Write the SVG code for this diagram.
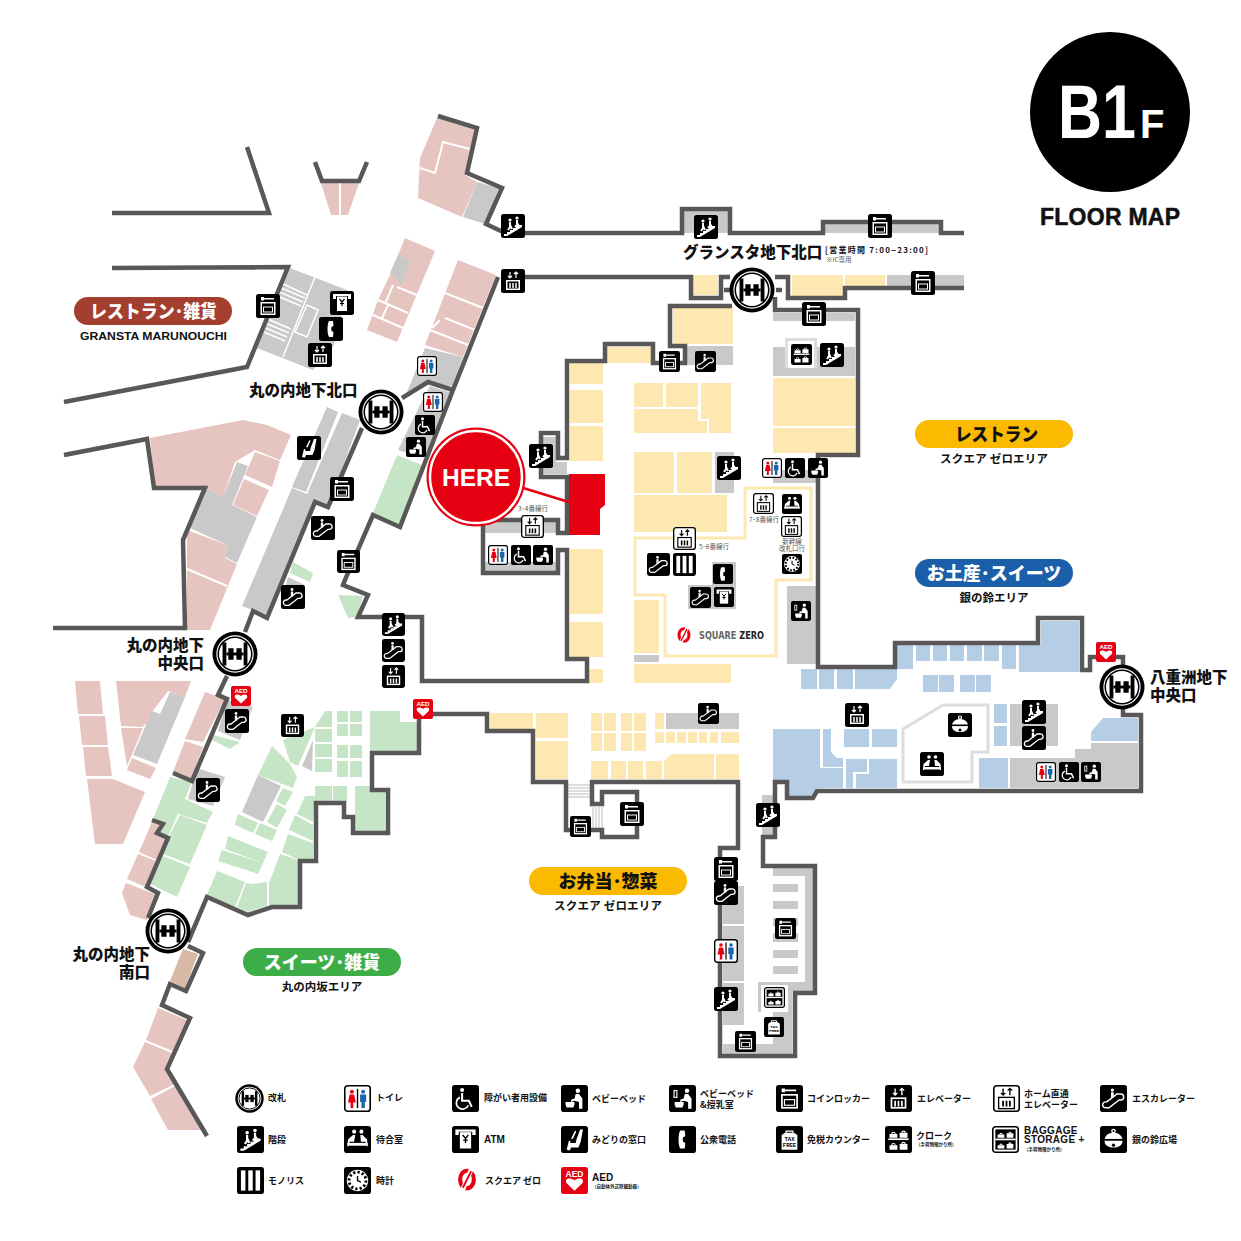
<svg xmlns="http://www.w3.org/2000/svg" width="1241" height="1241" viewBox="0 0 1241 1241">
<style>
text{font-family:"Noto Sans CJK JP","Liberation Sans",sans-serif;font-weight:700;fill:#111}
.w{fill:none;stroke:#595757;stroke-width:4.500;stroke-linejoin:miter}
.p{fill:#e6c4bf}.g{fill:#c9c9c9}.y{fill:#fce8b0}.n{fill:#c6e5c6}.b{fill:#b5cee6}
.bk{fill:#000}.wh{fill:#fff}.sw{fill:none;stroke:#fff}.sk{fill:none;stroke:#000}
.gl{font-size:15.500px;font-weight:900}.lg{font-size:9px}.sm{font-size:4.500px}.note{font-size:6.500px;font-weight:400;fill:#555}
.pill{font-size:18px;text-anchor:middle;font-weight:900}.sub{font-size:11.500px;text-anchor:middle}
</style>
<defs>
<symbol id="i-gate" viewBox="0 0 48 48"><circle cx="24" cy="24" r="23.500" class="bk"/><circle cx="24" cy="24" r="19.500" class="wh"/><circle cx="24" cy="24" r="17.500" class="sk" stroke-width="1.600"/><rect x="11" y="12" width="4" height="24" class="bk"/><rect x="33" y="12" width="4" height="24" class="bk"/><rect x="17" y="18" width="5.500" height="12" class="bk"/><rect x="25.500" y="18" width="5.500" height="12" class="bk"/><rect x="15" y="22.500" width="18" height="3" class="bk"/></symbol>
<symbol id="i-stair" viewBox="0 0 24 24"><rect class="bk" width="24" height="24" rx="2.500"/><path class="wh" d="M3 20h3v-2h3v-2h3v-2h3v-2h3v-1h3v2L6 22H3z"/><circle class="wh" cx="9" cy="6" r="1.600"/><circle class="wh" cx="16" cy="4" r="1.600"/><path class="sw" stroke-width="2" d="M9 8v5l-2 3M9 11l2 4M16 6v5l-2 2M16 9l2 3"/></symbol>
<symbol id="i-esc" viewBox="0 0 24 24"><rect class="bk" width="24" height="24" rx="2.500"/><path class="sw" stroke-width="1.300" d="M6 15l9-7h3a2.700 2.700 0 0 1 1 5.300h-2l-9 7H5a2.500 2.500 0 0 1 0-5.300z"/><circle class="wh" cx="11" cy="4.500" r="1.400"/><rect class="wh" x="9.800" y="6.500" width="2.400" height="5"/></symbol>
<symbol id="i-lock" viewBox="0 0 24 24"><rect class="bk" width="24" height="24" rx="2.500"/><path class="wh" d="M5 3h3v1h10v1.500H8v1H5z"/><rect class="wh" x="4.500" y="8" width="15" height="13"/><rect class="bk" x="6" y="9.500" width="12" height="10"/><rect class="wh" x="7" y="12.500" width="10" height="6"/><rect class="bk" x="8" y="13.500" width="8" height="4"/></symbol>
<symbol id="i-elev" viewBox="0 0 24 24"><rect class="bk" width="24" height="24" rx="2.500"/><path class="sw" stroke-width="1.200" d="M9 3v6M7 7l2 2 2-2M15 9V3M13 5l2-2 2 2"/><rect class="wh" x="5" y="11" width="14" height="10"/><rect class="bk" x="6.500" y="12.500" width="11" height="7"/><path class="sw" stroke-width="1.500" d="M9 14v5M12 14v5M15 14v5"/></symbol>
<symbol id="i-home" viewBox="0 0 24 24"><rect class="wh" x=".7" y=".7" width="22.600" height="22.600" rx="2.500" stroke="#000" stroke-width="1.400"/><path class="sk" stroke-width="1.200" d="M9 3v6M7 7l2 2 2-2M15 9V3M13 5l2-2 2 2"/><rect class="sk" stroke-width="1.200" x="5" y="11" width="14" height="10"/><path class="sk" stroke-width="1.600" d="M9 14v5M12 14v5M15 14v5"/></symbol>
<symbol id="i-wc" viewBox="0 0 24 24"><rect class="wh" x=".7" y=".7" width="22.600" height="22.600" rx="2.500" stroke="#000" stroke-width="1.400"/><circle cx="7" cy="6" r="1.800" fill="#e60012"/><path fill="#e60012" d="M5 8.500h4l1.500 7H8.200v5H5.800v-5H3.500z"/><circle cx="17" cy="6" r="1.800" fill="#1b64ae"/><path fill="#1b64ae" d="M14.300 8.500h5.400v6.500h-1.200v5.500h-3V15h-1.200z"/><rect x="11.400" y="3.500" width="1.200" height="17" class="bk"/></symbol>
<symbol id="i-wheel" viewBox="0 0 24 24"><rect class="bk" width="24" height="24" rx="2.500"/><circle class="wh" cx="9" cy="4.500" r="1.800"/><path class="sw" stroke-width="1.800" d="M9 7v7h6l2.500 5.500"/><path class="sw" stroke-width="1.500" d="M7 11a5.500 5.500 0 1 0 7.500 7"/></symbol>
<symbol id="i-baby" viewBox="0 0 24 24"><rect class="bk" width="24" height="24" rx="2.500"/><circle class="wh" cx="15" cy="5" r="2"/><path class="wh" d="M13 8h3l3 4v9h-3v-6l-4-1-3 1v-2l3-1z"/><path class="wh" d="M4 15h8v2l-1 3H5l-1-3z"/></symbol>
<symbol id="i-nurse" viewBox="0 0 24 24"><rect class="bk" width="24" height="24" rx="2.500"/><circle class="wh" cx="16" cy="5" r="2"/><path class="wh" d="M14 8h3l3 4v9h-3v-6l-4-1-3 1v-2l3-1z"/><path class="wh" d="M5 15h8v2l-1 3H6l-1-3z"/><rect class="sw" stroke-width="1" x="4.500" y="5" width="2.500" height="6"/></symbol>
<symbol id="i-wait" viewBox="0 0 24 24"><rect class="bk" width="24" height="24" rx="2.500"/><circle class="wh" cx="9" cy="5" r="1.800"/><circle class="wh" cx="15.500" cy="5" r="1.800"/><path class="wh" d="M8 8h2l-1 6H5l-1 4H3l.5-6zM14.500 8h2l4 4 .5 6h-1l-1-4h-4z"/><rect class="wh" x="3" y="15" width="18" height="2.500"/></symbol>
<symbol id="i-atm" viewBox="0 0 24 24"><rect class="bk" width="24" height="24" rx="2.500"/><path class="wh" d="M3 3h18v5h-3V5H6v3H3z"/><path class="wh" d="M7 5.500h10V20H7z"/><path class="sk" stroke-width="1.200" d="M9.500 8l2.500 3 2.500-3M12 11v4M10 12.500h4"/></symbol>
<symbol id="i-seat" viewBox="0 0 24 24"><rect class="bk" width="24" height="24" rx="2.500"/><path class="wh" d="M17 3h2.500l-2 11-2 5H9l-1 2.500H6L8 15h5l1-4z"/><path class="wh" d="M12.500 4l1 1-3 6.500-1.500-.5zM5 21l2-8 1.500.5L7 21z"/></symbol>
<symbol id="i-tel" viewBox="0 0 24 24"><rect class="bk" width="24" height="24" rx="2.500"/><path class="wh" d="M10 4h4l.5 5-2 1c-.3 1.500-.3 2.500 0 4l2 1-.5 5h-4C8 17 8 7 10 4z"/></symbol>
<symbol id="i-mono" viewBox="0 0 24 24"><rect class="bk" width="24" height="24" rx="2.500"/><rect class="wh" x="3.500" y="3" width="4" height="18"/><rect class="wh" x="10" y="3" width="4" height="18"/><rect class="wh" x="16.500" y="3" width="4" height="18"/></symbol>
<symbol id="i-clock" viewBox="0 0 24 24"><rect class="bk" width="24" height="24" rx="2.500"/><circle class="wh" cx="12" cy="12" r="9.500"/><circle cx="12" cy="12" r="7.500" fill="none" stroke="#000" stroke-width="2.500" stroke-dasharray="2 1.900"/><path class="sk" stroke-width="1.200" d="M12 8v4l3 1.500"/></symbol>
<symbol id="i-aed" viewBox="0 0 24 24"><rect fill="#e60012" width="24" height="24" rx="2.500"/><text x="12" y="8.500" text-anchor="middle" style="font-family:'Liberation Sans',sans-serif;font-size:7.500px;font-weight:700;fill:#fff">AED</text><path class="wh" d="M12 21L5 14.500C3 11 7 8.500 12 12c5-3.500 9-1 7 2.500z"/></symbol>
<symbol id="i-tax" viewBox="0 0 24 24"><rect class="bk" width="24" height="24" rx="2.500"/><path class="sw" stroke-width="1.200" d="M9 6V4.500h6V6"/><path class="wh" d="M8 6h8l3 2v13H5V8z"/><text x="12" y="13.500" text-anchor="middle" style="font-family:'Liberation Mono',monospace;font-size:5px;font-weight:700;fill:#000">TAX</text><text x="12" y="18.500" text-anchor="middle" style="font-family:'Liberation Mono',monospace;font-size:5px;font-weight:700;fill:#000">FREE</text></symbol>
<symbol id="i-cloak" viewBox="0 0 24 24"><rect class="bk" width="24" height="24" rx="2.500"/><rect class="wh" x="3" y="11" width="18" height="1.500"/><path class="wh" d="M4 7h7v3.500H4zM13 6h7v4.500h-7zM4 17h7v4H4zM13 16h7v5h-7z"/><path class="sw" stroke-width="1" d="M6 7a1.500 1.500 0 0 1 3 0M15 6a1.500 1.500 0 0 1 3 0M6 17a1.500 1.500 0 0 1 3 0M15 16a1.500 1.500 0 0 1 3 0"/></symbol>
<symbol id="i-bag" viewBox="0 0 24 24"><rect class="wh" x=".7" y=".7" width="22.600" height="22.600" rx="2.500" stroke="#000" stroke-width="1.400"/><rect class="bk" x="3" y="3" width="18" height="18"/><rect class="wh" x="3" y="11.200" width="18" height="1.500"/><path class="wh" d="M5 7.500h6v3H5zM13 6.500h6v4h-6zM5 17h6v3H5zM13 16h6v4h-6z"/><path class="sw" stroke-width=".9" d="M7 7.500a1 1 0 0 1 2 0M15 6.500a1 1 0 0 1 2 0M7 17a1 1 0 0 1 2 0M15 16a1 1 0 0 1 2 0"/></symbol>
<symbol id="i-bell" viewBox="0 0 24 24"><rect class="bk" width="24" height="24" rx="2.500"/><circle class="sw" stroke-width="1.200" cx="12" cy="4.500" r="1.500"/><path class="wh" d="M12 6c5 0 8 3 8 7 0 4-3 6-8 6s-8-2-8-6c0-4 3-7 8-7z"/><rect class="bk" x="3.500" y="11.500" width="17" height="1.600"/><circle class="bk" cx="12" cy="17" r="1.500"/></symbol>
<symbol id="i-zero" viewBox="0 0 24 24"><ellipse cx="12" cy="12" rx="7.500" ry="9.500" fill="none" stroke="#e60012" stroke-width="4.500"/><path d="M17 0L7 24" stroke="#fff" stroke-width="5"/><path d="M16.500 3L7.500 21" stroke="#e60012" stroke-width="2"/></symbol>
</defs>

<g id="floors">
<polygon class="p" points="437,118 475,130 465,175 477,182 462,217 418,198 420,158"/>
<polyline points="420,168 435,173 443,142 470,149" fill="none" stroke="#fff" stroke-width="2"/>
<polygon class="g" points="477,182 499,188 485,224 463,217"/>
<polygon class="p" points="321,183 359,183 348,215 331,215"/>
<rect x="339" y="183" width="2" height="32" fill="#fff"/>
<polygon class="g" points="290,268 347,290 334,345 313,370 257,348"/>
<g fill="none" stroke="#fff" stroke-width="1.500"><path d="M315,277L283,357M281,283L307,295M279,287L305,298M277,291L303,302M275,295L301,306M265,318L291,329M263,322L289,333M261,326L287,337M259,330L285,341"/><polygon points="307,305 318,310 307,337 295,332"/></g>
<polygon class="p" points="405,238 435,251 397,342 367,330 378,300 390,275 398,255"/>
<polygon class="g" points="398,255 410,260 402,285 390,273"/>
<path d="M378,300L408,313M373,315L403,328M397,287L417,295M386,302L393,285M382,318L388,305" stroke="#fff" stroke-width="2" fill="none"/>
<polygon class="p" points="458,260 496,275 463,357 425,345"/>
<path d="M445,293L483,308M445,318L475,330M430,330L468,345M440,320L432,328" stroke="#fff" stroke-width="2" fill="none"/>
<polygon class="g" points="425,348 463,357 453,387 428,381 407,392"/>
<polygon class="g" points="430,386 452,393 424,458 398,450 420,405"/>
<polygon class="n" points="397,455 422,465 400,525 373,513"/>
<polygon class="p" points="150,438 243,420 267,425 291,435 280,460 255,450 235,462 223,497 205,488 155,488"/>
<polygon class="p" points="255,452 280,461 272,487 245,475"/>
<polygon class="p" points="244,479 269,490 257,516 233,505"/>
<polygon class="g" points="237,462 248,466 232,505 257,517 237,563 225,557 227,545 190,528 205,488 223,497"/>
<polygon class="p" points="187,530 227,545 225,558 237,564 210,630 187,630"/>
<path d="M187,569L227,586" stroke="#fff" stroke-width="2"/>
<polygon class="g" points="327,407 338,412 306,492 292,487"/>
<polygon class="g" points="342,413 360,420 328,507 315,502 267,616 242,606 292,488 307,494"/>
<polygon class="n" points="293,562 313,573 310,582 290,573"/>
<polygon class="g" points="288,577 305,585 297,610 282,603"/>
<polygon class="n" points="338,595 363,596 357,617 348,618"/>
<rect class="y" x="693" y="275" width="25" height="20"/><rect class="y" x="792" y="275" width="51" height="21"/><rect class="y" x="845" y="275" width="40" height="12"/><rect class="g" x="887" y="275" width="77" height="12"/>
<rect class="g" x="684" y="210" width="45" height="23"/><polygon class="g" points="825,223 941,223 941,233 825,233"/>
<rect class="y" x="673" y="307" width="60" height="37"/><rect class="g" x="687" y="346" width="46" height="19"/>
<rect class="y" x="607" y="347" width="44" height="16"/>
<rect class="y" x="570" y="363" width="33" height="21"/><rect class="y" x="570" y="390" width="33" height="33"/><rect class="y" x="570" y="426" width="33" height="35"/>
<polygon class="g" points="543,437 556,437 556,462 567,462 567,474 543,474"/>
<rect class="y" x="570" y="549" width="33" height="65"/><rect class="y" x="570" y="622" width="33" height="35"/><rect class="y" x="588" y="669" width="15" height="14"/>
<rect class="y" x="634" y="383" width="29" height="24"/><rect class="y" x="666" y="383" width="32" height="24"/>
<polygon class="y" points="701,383 731,383 731,433 709,433 709,419 701,419"/>
<polygon class="y" points="634,409 698,409 698,421 707,421 707,433 634,433"/>
<rect class="y" x="634" y="452" width="40" height="41"/><rect class="y" x="677" y="452" width="35" height="41"/><rect class="g" x="715" y="452" width="19" height="41"/>
<rect class="y" x="634" y="495" width="93" height="37"/>
<rect class="y" x="634" y="600" width="25" height="53"/><rect class="g" x="634" y="655" width="25" height="7"/><rect class="y" x="634" y="664" width="97" height="19"/>
<rect class="g" x="773" y="313" width="82" height="8"/><rect class="g" x="773" y="347" width="82" height="29"/><rect fill="#ddd" x="785" y="338" width="32" height="30"/><rect class="wh" x="788" y="341" width="26" height="27"/>
<rect class="y" x="773" y="378" width="82" height="48"/><rect class="y" x="773" y="428" width="82" height="25"/>
<rect class="g" x="773" y="470" width="43" height="13"/>
<polygon points="635,538 745,538 745,488 811,488 811,580 776,580 776,656 665,656 665,595 635,595" fill="none" stroke="#fce8b0" stroke-width="3"/>
<polygon class="g" points="712,562 736,562 736,609 688,609 688,585 712,585"/>
<rect class="g" x="787" y="586" width="30" height="78"/>
<rect class="g" x="485" y="522" width="71" height="11"/><rect class="g" x="485" y="562" width="71" height="10"/>
<rect class="y" x="490" y="713" width="43" height="16"/><rect class="y" x="536" y="713" width="32" height="25"/><rect class="y" x="536" y="741" width="32" height="38"/>
<g class="y"><rect x="591" y="713" width="11" height="18"/><rect x="604" y="713" width="12" height="18"/><rect x="621" y="713" width="11" height="18"/><rect x="634" y="713" width="12" height="18"/><rect x="591" y="733" width="11" height="18"/><rect x="604" y="733" width="12" height="18"/><rect x="621" y="733" width="11" height="18"/><rect x="634" y="733" width="12" height="18"/>
<rect x="655" y="713" width="9" height="16"/><rect x="655" y="732" width="9" height="11"/><rect x="666" y="732" width="9" height="11"/><rect x="677" y="732" width="9" height="11"/><rect x="688" y="732" width="9" height="11"/><rect x="699" y="732" width="8" height="11"/><rect x="710" y="732" width="8" height="11"/><rect x="721" y="732" width="18" height="11"/>
<rect x="591" y="761" width="17" height="18"/><rect x="611" y="761" width="15" height="18"/><rect x="628" y="761" width="15" height="18"/><rect x="646" y="761" width="16" height="18"/><polygon points="664,761 672,754 714,754 714,779 664,779"/><rect x="716" y="754" width="23" height="25"/></g>
<rect class="g" x="666" y="713" width="73" height="16"/>
<g stroke="#bbb" stroke-width="1"><path d="M568,785h23M568,788h23M568,791h23M568,794h23M568,797h23M593,807v21M596,807v21M599,807v21M602,807v21"/></g>
<rect class="g" x="762" y="795" width="15" height="41"/>
<rect class="g" x="723" y="886" width="21" height="38"/><rect class="g" x="723" y="926" width="21" height="55"/><rect class="g" x="723" y="983" width="21" height="42"/>
<rect class="g" x="773" y="868" width="40" height="8"/><rect class="g" x="805" y="868" width="8" height="123"/>
<polygon class="g" points="758,982 813,982 813,991 792,991 792,1054 723,1054 723,1044 773,1044 773,1012 758,1012"/>
<rect class="wh" x="761" y="985" width="27" height="27"/>
<g class="g"><rect x="773" y="884" width="25" height="8"/><rect x="773" y="901" width="25" height="8"/><rect x="773" y="918" width="25" height="8"/><rect x="773" y="933" width="25" height="9"/><rect x="773" y="950" width="25" height="8"/><rect x="773" y="966" width="25" height="8"/></g>
<g class="b"><rect x="897" y="645" width="16" height="24"/><rect x="916" y="645" width="14" height="16"/><rect x="933" y="645" width="14" height="16"/><rect x="950" y="645" width="14" height="16"/><rect x="967" y="645" width="15" height="16"/><rect x="984" y="645" width="15" height="16"/><rect x="1002" y="645" width="14" height="24"/>
<polygon points="1019,645 1041,645 1041,621 1079,621 1079,672 1019,672"/>
<rect x="801" y="669" width="16" height="20"/><rect x="819" y="669" width="15" height="20"/><rect x="837" y="669" width="16" height="20"/><polygon points="855,669 897,669 897,679 890,689 855,689"/>
<rect x="923" y="675" width="15" height="17"/><rect x="939" y="675" width="15" height="17"/><rect x="960" y="675" width="15" height="17"/><rect x="976" y="675" width="15" height="17"/>
<rect x="994" y="704" width="13" height="19"/><rect x="994" y="726" width="13" height="20"/>
<rect x="844" y="729" width="25" height="18"/><rect x="872" y="729" width="25" height="18"/>
<polygon points="773,729 820,729 820,768 843,768 843,788 817,788 813,797 788,797 788,780 773,780"/>
<polygon points="823,729 831,729 831,752 837,758 843,758 843,767 823,767"/>
<polygon points="846,759 867,759 867,772 853,772 853,788 846,788"/>
<polygon points="869,759 897,759 897,788 856,788 856,774 869,774"/>
<rect x="979" y="758" width="29" height="30"/>
<polygon points="1103,718 1138,718 1138,741 1091,741 1091,732"/></g>
<rect class="g" x="1010" y="704" width="48" height="42"/>
<polygon class="g" points="1010,758 1075,758 1075,749 1091,749 1091,743 1138,743 1138,788 1010,788"/>
<polygon points="943,705 988,705 988,752 972,752 972,782 903,782 903,729" fill="none" stroke="#ddd" stroke-width="3"/>
<g class="n"><polygon points="370,711 400,711 400,722 417,722 417,751 370,751"/>
<polygon points="325,711 332,711 332,727 315,727"/><rect x="315" y="729" width="17" height="13"/><rect x="315" y="744" width="17" height="13"/><rect x="315" y="759" width="17" height="13"/>
<rect x="337" y="711" width="11" height="11"/><rect x="350" y="711" width="12" height="11"/><rect x="337" y="724" width="11" height="12"/><rect x="350" y="724" width="12" height="12"/><rect x="337" y="745" width="11" height="13"/><rect x="350" y="745" width="12" height="13"/><rect x="337" y="761" width="11" height="16"/><rect x="350" y="761" width="12" height="16"/>
<rect x="315" y="786" width="17" height="16"/><rect x="333" y="786" width="14" height="16"/><polygon points="355,786 372,786 372,791 385,791 385,831 355,831"/>
<polygon points="272,746 290,764 297,777 293,788 258,775"/><polygon points="283,740 315,727 298,766 290,762"/>
<polygon points="283,788 293,792 285,806 276,801"/><polygon points="277,804 287,810 277,828 267,822"/><polygon points="238,814 258,823 253,833 235,825"/><polygon points="260,823 277,830 272,841 255,834"/>
<polygon points="305,796 315,796 313,822 297,814"/><polygon points="295,815 313,825 313,841 289,830"/><polygon points="288,834 313,843 313,860 299,860 282,852"/>
<polygon points="280,854 298,860 298,906 269,906 269,883"/><polygon points="267,882 267,906 248,912 237,907 246,883 253,884"/><polygon points="217,871 245,882 235,907 207,895"/>
<polygon points="228,836 268,852 263,863 225,849"/><polygon points="222,850 263,863 258,874 218,861"/>
<polygon points="170,777 192,782 185,799 213,812 207,823 178,814 168,836 162,834 153,819"/>
<polygon points="180,815 207,825 190,864 163,854 168,838"/><polygon points="163,856 190,867 177,897 150,884"/>
<polygon points="213,735 240,742 230,749 212,740"/></g>
<polygon class="g" points="313,740 312,771 302,766"/>
<polygon class="g" points="258,775 281,786 263,822 242,812"/>
<polygon class="g" points="197,768 225,777 213,806 188,799"/>
<polygon class="g" points="253,707 240,740 218,731 227,700"/>
<g class="p"><polygon points="75,681 100,681 103,714 78,714"/><polygon points="79,716 105,716 108,745 82,745"/><polygon points="83,747 108,747 112,776 86,776"/><polygon points="87,779 113,779 145,792 123,844 95,844"/>
<polygon points="116,681 191,681 185,697 168,691 152,712 160,714 142,727 121,726"/><polygon points="121,728 143,728 127,766"/><polygon points="132,758 156,768 150,779 127,770"/>
<polygon points="205,692 225,699 203,742 185,739"/><polygon points="185,741 203,747 191,779 173,772"/>
<polygon points="152,822 162,825 156,834 167,838 157,860 139,852"/><polygon points="138,854 156,861 146,887 127,879"/><polygon points="126,883 157,895 147,920 130,915 122,893"/>
<polygon points="158,1008 187,1020 175,1052 146,1040"/><polygon points="145,1042 172,1053 167,1069 175,1084 150,1096 133,1067"/><polygon points="151,1099 175,1086 202,1130 168,1130"/></g>
<polygon class="g" points="170,692 185,697 157,764 133,755 152,711 160,714"/>
<polygon fill="#d7b9a6" points="183,949 198,954 185,988 170,981"/>
</g>

<g id="connectors">
<polyline class="w" points="112,213 269,213 247,147"/>
<polyline class="w" points="315,162 322,181 359,181 367,162"/>
<polyline class="w" points="438,116 477,128 467,173 502,188 486,224 503,232"/>
<polyline class="w" points="513,233 682,233 682,209 730,209 730,233 823,233 823,222 941,222 941,233 964,233"/>
<polyline class="w" points="513,277 691,277 691,298 721,298 721,277 730,277"/>
<polyline class="w" points="775,277 788,277 788,298 845,298 845,288 964,288"/>
<path class="w" d="M724,290h6M776,290h6"/>
<polyline class="w" points="498,277 453,390 400,527 373,515 347,575 343,585 368,595 358,617 422,617 422,681 587,681 587,659 567,659 567,550 558,550 558,573 483,573 483,520 558,520 558,533 567,533 567,477 541,477 541,433 558,433 558,458 567,458 567,361 605,361 605,344 653,344 653,363 685,363 685,346 670,346 670,306 732,306"/>
<polyline class="w" points="775,297 775,310 858,310 858,455 818,455 818,667 895,667 895,643 1038,643 1038,618 1082,618 1082,670 1090,670 1090,657 1123,657 1123,668"/>
<polyline class="w" points="1123,706 1123,715 1141,715 1141,791 817,791 813,798 787,798 787,782 775,782 775,837 763,837 763,866 815,866 815,993 795,993 795,1056 720,1056 720,848 738,848 738,782 592,782 592,804 602,804 602,792 637,792 637,837 602,837 602,830 566,830 566,782 533,782 533,731 487,731 487,714 433,714"/>
<polyline class="w" points="419,718 419,753 372,753 372,790 388,790 388,833 353,833 353,817 344,817 344,803 316,803 316,861 300,861 300,907 272,907 248,915 207,897 188,942"/>
<polyline class="w" points="188,946 203,953 186,991 170,984 162,1005 190,1018 167,1069 207,1136"/>
<polyline class="w" points="362,428 328,507 315,502 267,618 253,611 245,632"/>
<polyline class="w" points="227,676 218,695 227,699 192,781 173,773"/>
<polyline class="w" points="152,820 163,824 157,833 168,838 147,887 158,893 148,918"/>
<polyline class="w" points="53,628 185,628 183,540 205,488 154,488 147,439 64,455"/>
<polyline class="w" points="64,402 247,367 288,267 112,268"/>
<polyline class="w" points="402,398 428,382 453,390"/>
</g>

<g id="here"><polygon points="569,474 605,474 605,505 600,509 600,535 569,535" fill="#e60012"/><line x1="520" y1="487" x2="572" y2="503" stroke="#e60012" stroke-width="2.500"/><circle cx="476" cy="477" r="49.500" fill="#e60012"/><circle cx="476" cy="477" r="46" fill="none" stroke="#fff" stroke-width="2.500"/><text x="476" y="486" text-anchor="middle" style="font-family:'Liberation Sans',sans-serif;font-size:24.500px;fill:#fff">HERE</text></g>

<g id="floor-badge"><circle cx="1110" cy="112" r="80" class="bk"/><text x="1058" y="138" textLength="78" lengthAdjust="spacingAndGlyphs" style="font-family:'Liberation Sans',sans-serif;font-size:76px;fill:#fff">B1</text><text x="1140" y="138" style="font-family:'Liberation Sans',sans-serif;font-size:40px;fill:#fff">F</text><text x="1040" y="225" textLength="140" lengthAdjust="spacing" style="font-family:'Liberation Sans',sans-serif;font-size:23px;font-weight:700;stroke:#111;stroke-width:.5">FLOOR MAP</text></g>

<g id="gate-north"><use href="#i-gate" x="729" y="267" width="46" height="46"/><text x="683" y="258" style="font-size:15.500px;font-weight:900">グランスタ地下北口</text><text x="825" y="253" textLength="103" lengthAdjust="spacing" style="font-size:8px">[営業時間 7:00−23:00]</text><text x="826" y="262" class="note">※IC専用</text></g>
<g id="gate-maru-n"><use href="#i-gate" x="358" y="389" width="46" height="46"/><text x="249" y="396" class="gl">丸の内地下北口</text></g>
<g id="gate-maru-c"><use href="#i-gate" x="212" y="631" width="46" height="46"/><text class="gl" text-anchor="end"><tspan x="204" y="651">丸の内地下</tspan><tspan x="204" y="669">中央口</tspan></text></g>
<g id="gate-maru-s"><use href="#i-gate" x="145" y="908" width="46" height="46"/><text class="gl" text-anchor="end"><tspan x="150" y="960">丸の内地下</tspan><tspan x="150" y="978">南口</tspan></text></g>
<g id="gate-yaesu"><use href="#i-gate" x="1099" y="664" width="46" height="46"/><text class="gl"><tspan x="1150" y="683">八重洲地下</tspan><tspan x="1150" y="701">中央口</tspan></text></g>

<g id="icons">
<g id="stairs"><use href="#i-stair" x="501" y="214" width="24" height="24"/><use href="#i-stair" x="694" y="215" width="24" height="24"/><use href="#i-stair" x="820" y="343" width="24" height="24"/><use href="#i-stair" x="529" y="444" width="24" height="24"/><use href="#i-stair" x="717" y="456" width="24" height="24"/><use href="#i-stair" x="382" y="613" width="23" height="23"/><use href="#i-stair" x="756" y="803" width="24" height="24"/><use href="#i-stair" x="1022" y="700" width="24" height="24"/><use href="#i-stair" x="714" y="987" width="24" height="24"/></g>
<g id="lockers"><use href="#i-lock" x="868" y="214" width="24" height="24"/><use href="#i-lock" x="911" y="271" width="24" height="24"/><use href="#i-lock" x="802" y="302" width="24" height="24"/><use href="#i-lock" x="659" y="351" width="21" height="21"/><use href="#i-lock" x="256" y="294" width="24" height="24"/><use href="#i-lock" x="330" y="477" width="24" height="24"/><use href="#i-lock" x="337" y="550" width="23" height="23"/><use href="#i-lock" x="570" y="816" width="21" height="21"/><use href="#i-lock" x="620" y="802" width="24" height="24"/><use href="#i-lock" x="714" y="857" width="24" height="24"/><use href="#i-lock" x="775" y="918" width="21" height="21"/><use href="#i-lock" x="735" y="1031" width="21" height="21"/></g>
<g id="elevators"><use href="#i-elev" x="501" y="269" width="24" height="24"/><use href="#i-elev" x="308" y="343" width="24" height="24"/><use href="#i-elev" x="281" y="714" width="23" height="23"/><use href="#i-elev" x="382" y="665" width="23" height="23"/><use href="#i-elev" x="845" y="703" width="24" height="24"/><use href="#i-home" x="521" y="515" width="23" height="23"/><use href="#i-home" x="673" y="527" width="23" height="23"/><use href="#i-home" x="753" y="493" width="21" height="21"/><use href="#i-home" x="781" y="516" width="21" height="21"/></g>
<g id="escalators"><use href="#i-esc" x="311" y="516" width="24" height="24"/><use href="#i-esc" x="281" y="585" width="24" height="24"/><use href="#i-esc" x="695" y="351" width="21" height="21"/><use href="#i-esc" x="647" y="553" width="23" height="23"/><use href="#i-esc" x="382" y="639" width="23" height="23"/><use href="#i-esc" x="225" y="709" width="24" height="24"/><use href="#i-esc" x="196" y="778" width="24" height="24"/><use href="#i-esc" x="698" y="703" width="21" height="21"/><use href="#i-esc" x="714" y="881" width="24" height="24"/><use href="#i-esc" x="1022" y="726" width="24" height="24"/><use href="#i-esc" x="690" y="587" width="21" height="21"/></g>
<g id="toilets"><use href="#i-wc" x="417" y="356" width="20" height="20"/><use href="#i-wc" x="423" y="392" width="20" height="20"/><use href="#i-wc" x="762" y="458" width="20" height="20"/><use href="#i-wc" x="488" y="545" width="20" height="20"/><use href="#i-wc" x="1036" y="762" width="20" height="20"/><use href="#i-wc" x="714" y="939" width="24" height="24"/></g>
<g id="wheelchairs"><use href="#i-wheel" x="415" y="415" width="20" height="20"/><use href="#i-wheel" x="785" y="458" width="20" height="20"/><use href="#i-wheel" x="511" y="545" width="20" height="20"/><use href="#i-wheel" x="1059" y="762" width="20" height="20"/></g>
<g id="baby"><use href="#i-baby" x="406" y="437" width="20" height="20"/><use href="#i-baby" x="808" y="458" width="20" height="20"/><use href="#i-baby" x="533" y="545" width="20" height="20"/><use href="#i-nurse" x="791" y="601" width="20" height="20"/><use href="#i-nurse" x="1081" y="762" width="20" height="20"/></g>
<g id="services"><use href="#i-atm" x="330" y="291" width="24" height="24"/><use href="#i-tel" x="319" y="317" width="24" height="24"/><use href="#i-tel" x="713" y="564" width="20" height="20"/><use href="#i-atm" x="714" y="587" width="20" height="20"/><use href="#i-seat" x="297" y="436" width="24" height="24"/><use href="#i-wait" x="782" y="494" width="20" height="20"/><use href="#i-wait" x="920" y="752" width="24" height="24"/><use href="#i-mono" x="673" y="553" width="23" height="23"/><use href="#i-clock" x="782" y="554" width="20" height="20"/><use href="#i-cloak" x="791" y="344" width="21" height="21"/><use href="#i-bag" x="764" y="987" width="21" height="21"/><use href="#i-tax" x="764" y="1017" width="20" height="20"/><use href="#i-bell" x="948" y="713" width="24" height="24"/></g>
<g id="aeds"><use href="#i-aed" x="231" y="686" width="20" height="20"/><use href="#i-aed" x="413" y="699" width="20" height="20"/><use href="#i-aed" x="1096" y="642" width="20" height="20"/></g>
<g id="square-zero"><use href="#i-zero" x="676" y="625" width="16" height="20"/><text x="699" y="639" textLength="65" lengthAdjust="spacingAndGlyphs" style="font-family:'DejaVu Sans Condensed','Liberation Sans',sans-serif;font-size:10px;fill:#666">SQUARE <tspan fill="#222">ZERO</tspan></text></g>
</g>

<g id="notes"><text x="533" y="511" class="note" text-anchor="middle">3･4番線行</text><text x="764" y="522" class="note" text-anchor="middle">7･8番線行</text><text x="699" y="549" class="note">5･6番線行</text><text class="note" text-anchor="middle"><tspan x="792" y="544">新幹線</tspan><tspan x="792" y="551">改札口行</tspan></text></g>

<g id="labels">
<g id="area-rest"><rect x="74" y="297" width="158" height="28" rx="14" fill="#a43f2f"/><text x="90" y="318" textLength="127" lengthAdjust="spacingAndGlyphs" style="font-size:18px;font-weight:900;fill:#fff">レストラン･雑貨</text><text x="80" y="340" textLength="147" lengthAdjust="spacingAndGlyphs" style="font-family:'Liberation Sans',sans-serif;font-size:11.500px">GRANSTA MARUNOUCHI</text></g>
<g id="area-zero1"><rect x="915" y="420" width="158" height="28" rx="14" fill="#fbb900"/><text x="955" y="441" textLength="83" lengthAdjust="spacingAndGlyphs" style="font-size:18px;font-weight:900">レストラン</text><text x="940" y="463" textLength="108" lengthAdjust="spacing" style="font-size:11.500px">スクエア ゼロエリア</text></g>
<g id="area-gin"><rect x="915" y="559" width="158" height="28" rx="14" fill="#1b5faa"/><text x="994" y="580" class="pill" style="fill:#fff">お土産･スイーツ</text><text x="994" y="602" class="sub">銀の鈴エリア</text></g>
<g id="area-zero2"><rect x="529" y="867" width="158" height="28" rx="14" fill="#fbb900"/><text x="608" y="888" class="pill">お弁当･惣菜</text><text x="554" y="910" textLength="108" lengthAdjust="spacing" style="font-size:11.500px">スクエア ゼロエリア</text></g>
<g id="area-saka"><rect x="243" y="948" width="158" height="28" rx="14" fill="#3dae47"/><text x="322" y="969" class="pill" style="fill:#fff">スイーツ･雑貨</text><text x="322" y="991" class="sub">丸の内坂エリア</text></g>
</g>

<g id="legend">
<use href="#i-gate" x="235" y="1084" width="29" height="29"/><text x="268" y="1101" class="lg">改札</text>
<use href="#i-wc" x="344" y="1085" width="27" height="27"/><text x="376" y="1101" class="lg">トイレ</text>
<use href="#i-wheel" x="452" y="1085" width="27" height="27"/><text x="484" y="1101" class="lg">障がい者用設備</text>
<use href="#i-baby" x="561" y="1085" width="27" height="27"/><text x="592" y="1102" class="lg">ベビーベッド</text>
<use href="#i-nurse" x="669" y="1085" width="27" height="27"/><text class="lg"><tspan x="700" y="1097">ベビーベッド</tspan><tspan x="700" y="1108">&amp;授乳室</tspan></text>
<use href="#i-lock" x="776" y="1085" width="27" height="27"/><text x="807" y="1102" class="lg">コインロッカー</text>
<use href="#i-elev" x="885" y="1085" width="27" height="27"/><text x="917" y="1102" class="lg">エレベーター</text>
<use href="#i-home" x="993" y="1085" width="27" height="27"/><text class="lg"><tspan x="1024" y="1097">ホーム直通</tspan><tspan x="1024" y="1108">エレベーター</tspan></text>
<use href="#i-esc" x="1100" y="1085" width="27" height="27"/><text x="1132" y="1102" class="lg">エスカレーター</text>
<use href="#i-stair" x="237" y="1126" width="27" height="27"/><text x="268" y="1143" class="lg">階段</text>
<use href="#i-wait" x="344" y="1126" width="27" height="27"/><text x="376" y="1143" class="lg">待合室</text>
<use href="#i-atm" x="452" y="1126" width="27" height="27"/><text x="484" y="1143" style="font-family:'Liberation Sans',sans-serif;font-size:10px">ATM</text>
<use href="#i-seat" x="561" y="1126" width="27" height="27"/><text x="592" y="1143" class="lg">みどりの窓口</text>
<use href="#i-tel" x="669" y="1126" width="27" height="27"/><text x="700" y="1143" class="lg">公衆電話</text>
<use href="#i-tax" x="776" y="1126" width="27" height="27"/><text x="807" y="1143" class="lg">免税カウンター</text>
<use href="#i-cloak" x="885" y="1126" width="27" height="27"/><text class="lg"><tspan x="916" y="1139">クローク</tspan><tspan x="916" y="1146" style="font-size:4.500px">（手荷物預かり所）</tspan></text>
<use href="#i-bag" x="992" y="1126" width="27" height="27"/><text style="font-family:'Liberation Sans',sans-serif;font-size:10px;letter-spacing:.3px"><tspan x="1024" y="1134">BAGGAGE</tspan><tspan x="1024" y="1143">STORAGE +</tspan></text><text x="1024" y="1151" class="sm">（手荷物預かり所）</text>
<use href="#i-bell" x="1100" y="1126" width="27" height="27"/><text x="1132" y="1143" class="lg">銀の鈴広場</text>
<use href="#i-mono" x="237" y="1167" width="27" height="27"/><text x="268" y="1184" class="lg">モノリス</text>
<use href="#i-clock" x="344" y="1167" width="27" height="27"/><text x="376" y="1184" class="lg">時計</text>
<use href="#i-zero" x="456" y="1165" width="22" height="29"/><text x="485" y="1184" class="lg">スクエア ゼロ</text>
<use href="#i-aed" x="561" y="1167" width="27" height="27"/><text style="font-family:'Liberation Sans',sans-serif;font-size:10px"><tspan x="592" y="1181">AED</tspan><tspan x="592" y="1188" style="font-family:'Noto Sans CJK JP',sans-serif;font-size:4.500px">（自動体外式除細動器）</tspan></text>
</g>
</svg>
